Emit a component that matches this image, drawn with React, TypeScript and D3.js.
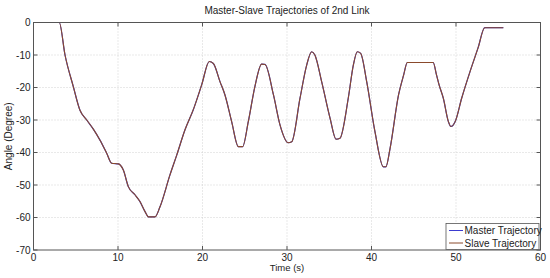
import React, { useEffect, useRef } from "react";
import * as d3 from "d3";

// time (s) and angle (degree)
const timeS = [
  2.75, 3.05, 3.73, 4.71, 5.5, 6.3, 7.08, 7.87, 8.66, 9.25, 10.04, 10.63, 11.22, 12.01, 12.6, 13.2, 13.6,
  14.38, 14.97, 16.15, 16.95, 17.93, 18.9, 19.9, 20.8, 21.28, 22.07, 22.66, 23.45, 24.24, 24.75, 25.42,
  26.2, 27.0, 27.4, 28.4, 29.17, 30.15, 30.56, 31.54, 32.33, 32.92, 33.3, 34.1, 35.1, 35.8, 36.27, 37.25,
  37.85, 38.32, 38.72, 39.43, 40.41, 41.4, 41.7, 42.2, 43.2, 43.8, 44.24, 47.3, 47.7, 48.0, 48.5, 49.1,
  49.4, 49.9, 50.67, 51.66, 52.6, 53.4, 55.6,
];
const masterAngle = [
  0, 0, -10, -19.7, -27.0, -30, -32.8, -36.2, -40.2, -43.3, -43.5, -45.4, -50.5, -53, -55.1, -58.2, -59.8,
  -59.8, -56.7, -46.9, -40.8, -33, -26.9, -19.2, -12, -12.6, -18.2, -22.3, -30.5, -38.2, -38.2, -30.5,
  -19.7, -12.8, -12.9, -22.3, -31.5, -37, -36.7, -23.3, -13.1, -9, -10, -18.2, -29.5, -35.9, -35.6, -23.3,
  -13.1, -9, -9.5, -18.2, -33.6, -44.4, -44.4, -38.7, -22.3, -16.2, -12.3, -12.3, -16.2, -19.2, -23.3, -30.5,
  -32, -30.5, -23.3, -15.1, -7.9, -1.6, -1.6,
];
const slaveAngle = masterAngle.slice();

const xTicks = [0, 10, 20, 30, 40, 50, 60];
const yTicks = [0, -10, -20, -30, -40, -50, -60, -70];
const seriesNames = ["Master Trajectory", "Slave Trajectory"];
const seriesColors = ["#3b3bd0", "#8a4a2c"];

function App() {
  const svgRef = useRef<SVGSVGElement>(null);
  const width = 550;
  const height = 278;

  useEffect(() => {
    const svg = d3.select(svgRef.current);
    svg.selectAll("*").remove();

    const left = 33.5, right = 540.5, top = 22.5, bottom = 250;
    const x = d3.scaleLinear().domain([0, 60]).range([left, right]);
    const y = d3.scaleLinear().domain([-70, 0]).range([bottom, top]);
    const font = "Liberation Sans, Arial, sans-serif";

    svg.append("rect").attr("width", width).attr("height", height).attr("fill", "#fff");

    // grid
    const grid = svg.append("g").attr("stroke", "#c8c8c8").attr("stroke-dasharray", "1,2").attr("stroke-width", 0.8);
    xTicks.slice(1, -1).forEach(t => {
      grid.append("line").attr("x1", x(t)).attr("x2", x(t)).attr("y1", top).attr("y2", bottom);
    });
    yTicks.slice(1, -1).forEach(t => {
      grid.append("line").attr("x1", left).attr("x2", right).attr("y1", y(t)).attr("y2", y(t));
    });

    // lines
    const series = [masterAngle, slaveAngle];
    series.forEach((vals, i) => {
      const pts = timeS.map((t, j) => [t, vals[j]] as [number, number]);
      svg.append("path")
        .datum(pts)
        .attr("fill", "none")
        .attr("stroke", seriesColors[i])
        .attr("stroke-width", i === 0 ? 1.2 : 1.1)
        .attr("d", d3.line<[number, number]>().x(d => x(d[0])).y(d => y(d[1])).curve(d3.curveMonotoneX));
    });

    // box
    svg.append("rect")
      .attr("x", left).attr("y", top).attr("width", right - left).attr("height", bottom - top)
      .attr("fill", "none").attr("stroke", "#555").attr("stroke-width", 1);

    // ticks
    const ax = svg.append("g").attr("font-family", font).attr("font-size", 10).attr("fill", "#222");
    xTicks.forEach(t => {
      svg.append("line").attr("x1", x(t)).attr("x2", x(t)).attr("y1", bottom).attr("y2", bottom - 4).attr("stroke", "#555");
      svg.append("line").attr("x1", x(t)).attr("x2", x(t)).attr("y1", top).attr("y2", top + 4).attr("stroke", "#555");
      ax.append("text").attr("x", x(t)).attr("y", bottom + 11).attr("text-anchor", "middle").text(t);
    });
    yTicks.forEach(t => {
      svg.append("line").attr("x1", left).attr("x2", left + 4).attr("y1", y(t)).attr("y2", y(t)).attr("stroke", "#555");
      svg.append("line").attr("x1", right).attr("x2", right - 4).attr("y1", y(t)).attr("y2", y(t)).attr("stroke", "#555");
      ax.append("text").attr("x", left - 3).attr("y", y(t) + 3.5).attr("text-anchor", "end").text(t);
    });

    ax.append("text").attr("x", 287).attr("y", 14).attr("text-anchor", "middle").text("Master-Slave Trajectories of 2nd Link");
    ax.append("text").attr("x", 287).attr("y", 271).attr("text-anchor", "middle").attr("font-size", 9.5).text("Time (s)");
    ax.append("text").attr("transform", `translate(12,${(top + bottom) / 2}) rotate(-90)`).attr("text-anchor", "middle").text("Angle (Degree)");

    // legend
    const lg = svg.append("g");
    lg.append("rect").attr("x", 446).attr("y", 223.5).attr("width", 93).attr("height", 26)
      .attr("fill", "#fff").attr("stroke", "#555").attr("stroke-width", 0.8);
    seriesNames.forEach((name, i) => {
      const ly = 230.5 + i * 12.5;
      lg.append("line").attr("x1", 449).attr("x2", 463).attr("y1", ly).attr("y2", ly).attr("stroke", seriesColors[i]).attr("stroke-width", 1);
      lg.append("text").attr("x", 464.5).attr("y", ly + 3.5).attr("font-family", font).attr("font-size", 10).attr("fill", "#222").text(name);
    });
  }, []);

  return (
    <svg ref={svgRef} width={width} height={height} style={{ position: "absolute", left: 0, top: 0 }} />
  );
}

export default App;
